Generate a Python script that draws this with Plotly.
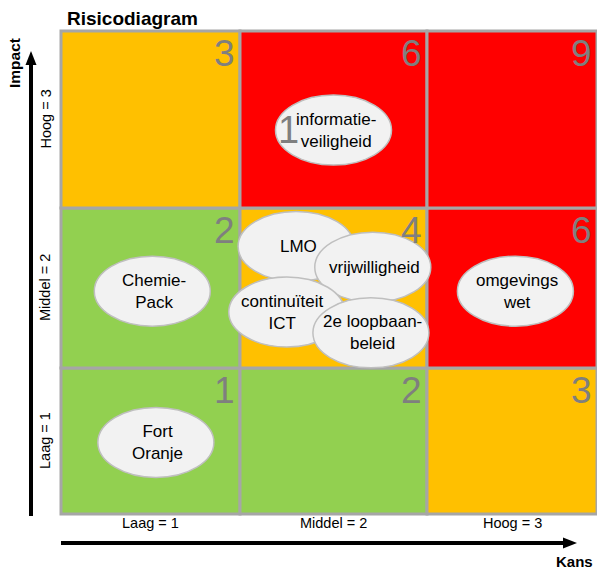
"""Risicodiagram: 3x3 risk matrix (kans x impact) with risk bubbles"""
import numpy as np
import plotly.graph_objects as go

# --- data -------------------------------------------------------------
kans_labels = ["Laag = 1", "Middel = 2", "Hoog = 3"]
impact_labels = ["Laag = 1", "Middel = 2", "Hoog = 3"]

# score per cell, rows = impact 1..3, cols = kans 1..3
scores = [
    [1, 2, 3],
    [2, 4, 6],
    [3, 6, 9],
]

risk_names = ["Fort<br>Oranje", "Chemie-<br>Pack", "omgevings<br>wet",
              "informatie-<br>veiligheid", "LMO", "vrijwilligheid",
              "continuïteit<br>ICT", "2e loopbaan-<br>beleid"]
risk_kans = [1.03, 1.01, 3.02, 2.00, 1.80, 2.21, 1.75, 2.20]
risk_impact = [0.99, 1.98, 1.98, 2.94, 2.26, 2.13, 1.85, 1.72]

# --- style ------------------------------------------------------------
W, H = 597, 569
L, T, B = 59, 29, 53
GREEN, ORANGE, RED = "#92D050", "#FFC000", "#FF0000"
GRID = "#A6A6A6"
FONT = "Arial, Liberation Sans, sans-serif"


def score_color(s):
    if s <= 2:
        return GREEN
    if s <= 4:
        return ORANGE
    return RED


# cell edges in plot pixels (columns / rows are not equally sized in the original)
x_edges = [0, 179, 366, 536]
y_edges = [0, 146, 306, 483]


def kx(k):
    return float(np.interp(k, [0.5, 1.5, 2.5, 3.5], x_edges))


def iy(i):
    return float(np.interp(i, [0.5, 1.5, 2.5, 3.5], y_edges))


pw = W - L
ph = H - T - B


def px(x):  # figure pixel -> paper x
    return (x - L) / pw


def py(y):  # figure pixel -> paper y
    return (H - B - y) / ph


fig = go.Figure()
fig.add_trace(go.Scatter(x=[0], y=[0], mode="markers", opacity=0, showlegend=False, hoverinfo="skip"))

shapes = []
annotations = []

# cells
for r in range(3):
    for c in range(3):
        s = scores[r][c]
        shapes.append(dict(type="rect", xref="x", yref="y", layer="below",
                           x0=kx(c + 0.5), x1=kx(c + 1.5), y0=iy(r + 0.5), y1=iy(r + 1.5),
                           fillcolor=score_color(s), line=dict(color=GRID, width=3)))
        annotations.append(dict(x=kx(c + 1.5), y=iy(r + 1.5), xref="x", yref="y",
                                text=str(s), showarrow=False, xanchor="right", yanchor="top",
                                xshift=-3, yshift=0,
                                font=dict(family=FONT, size=37, color="#7F7F7F")))

# bubbles
for name, k, i in zip(risk_names, risk_kans, risk_impact):
    cx, cy = kx(k), iy(i)
    shapes.append(dict(type="circle", xref="x", yref="y", layer="above",
                       xsizemode="pixel", ysizemode="pixel", xanchor=cx, yanchor=cy,
                       x0=-58, x1=58, y0=-35, y1=35,
                       fillcolor="#F2F2F2", line=dict(color="#BFBFBF", width=1.5)))
    if name.startswith("informatie"):
        annotations.append(dict(x=cx, y=cy, xref="x", yref="y", text="1", showarrow=False,
                                xshift=-45, yshift=0,
                                font=dict(family=FONT, size=38, color="#7F7F7F")))
    shift = -5 if name.startswith("continu") else 2
    annotations.append(dict(x=cx, y=cy, xref="x", yref="y", text=name, showarrow=False,
                            xshift=shift, font=dict(family=FONT, size=17, color="#000000")))

# axis category labels
for c, lab in enumerate(kans_labels):
    annotations.append(dict(x=kx(c + 1), y=py(523), xref="x", yref="paper", text=lab,
                            xanchor="center", yanchor="middle", showarrow=False,
                            font=dict(family=FONT, size=14.5, color="#000")))
for r, lab in enumerate(impact_labels):
    annotations.append(dict(x=px(45), y=iy(r + 1), xref="paper", yref="y", text=lab,
                            textangle=-90, xanchor="center", yanchor="middle", showarrow=False,
                            font=dict(family=FONT, size=14.5, color="#000")))

# title and axis names
annotations.append(dict(x=px(65), y=py(18), xref="paper", yref="paper", text="<b>Risicodiagram</b>",
                        xanchor="left", yanchor="middle", showarrow=False,
                        font=dict(family=FONT, size=19, color="#000")))
annotations.append(dict(x=px(14), y=py(63), xref="paper", yref="paper", text="<b>Impact</b>",
                        textangle=-90, xanchor="center", yanchor="middle", showarrow=False,
                        font=dict(family=FONT, size=15.5, color="#000")))
annotations.append(dict(x=px(574), y=py(561), xref="paper", yref="paper", text="<b>Kans</b>",
                        xanchor="center", yanchor="middle", showarrow=False,
                        font=dict(family=FONT, size=15, color="#000")))

# arrows
shapes.append(dict(type="line", xref="paper", yref="paper", x0=px(31), x1=px(31),
                   y0=py(516), y1=py(62), line=dict(color="#000", width=4)))
shapes.append(dict(type="path", xref="paper", yref="paper", fillcolor="#000", line=dict(width=0),
                   path=f"M{px(25.5)},{py(65)} L{px(36.5)},{py(65)} L{px(31)},{py(51)} Z"))
shapes.append(dict(type="line", xref="paper", yref="paper", x0=px(61), x1=px(566),
                   y0=py(543), y1=py(543), line=dict(color="#000", width=4)))
shapes.append(dict(type="path", xref="paper", yref="paper", fillcolor="#000", line=dict(width=0),
                   path=f"M{px(563)},{py(537.5)} L{px(563)},{py(548.5)} L{px(577)},{py(543)} Z"))

fig.update_layout(
    width=W, height=H,
    margin=dict(l=L, r=0, t=T, b=B, pad=0),
    paper_bgcolor="white", plot_bgcolor="white",
    shapes=shapes, annotations=annotations,
    showlegend=False,
    xaxis=dict(range=[-2, 536], visible=False, fixedrange=True),
    yaxis=dict(range=[-2, 485], visible=False, fixedrange=True),
)

fig.write_html("out.html", config={"displayModeBar": False},
               post_script="document.body.style.margin='0';")
